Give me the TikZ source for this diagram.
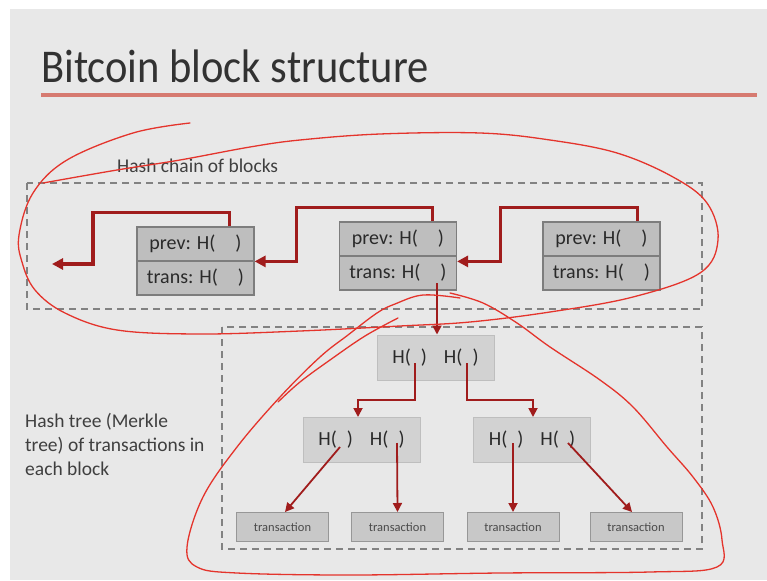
\documentclass[tikz,border=0pt]{standalone}
\usepackage{fontspec}
\setmainfont{Carlito}
\usetikzlibrary{arrows.meta,calc}

\definecolor{slidebg}{RGB}{232,232,232}
\definecolor{titletext}{RGB}{50,50,50}
\definecolor{bodytext}{RGB}{42,42,42}
\definecolor{rule}{RGB}{214,122,112}
\definecolor{dashgray}{RGB}{130,130,130}
\definecolor{cellfill}{RGB}{190,190,190}
\definecolor{cellline}{RGB}{125,125,125}
\definecolor{treefill}{RGB}{210,210,210}
\definecolor{treeline}{RGB}{190,190,190}
\definecolor{linkred}{RGB}{160,28,28}
\definecolor{penred}{RGB}{228,52,44}

\tikzset{
  blockcell/.style={draw=cellline, line width=1.2pt, fill=cellfill,
    minimum width=117pt, minimum height=34pt, inner sep=0pt,
    font=\fontsize{20}{24}\selectfont, text=bodytext},
  treecell/.style={draw=treeline, line width=1pt, fill=treefill,
    minimum width=117pt, minimum height=45pt, inner sep=0pt,
    font=\fontsize{20}{24}\selectfont, text=bodytext},
  txcell/.style={draw=cellline!80, line width=1pt, fill=cellfill!85!white,
    minimum width=92pt, minimum height=29pt, inner sep=0pt,
    font=\fontsize{12.5}{14}\selectfont, text=bodytext!85},
  groupbox/.style={draw=dashgray, line width=1.8pt, dash pattern=on 7pt off 5pt},
  chainlink/.style={draw=linkred, line width=3.2pt,
    -{Triangle[length=11pt,width=11pt]}},
  treelink/.style={draw=linkred, line width=1.8pt,
    -{Triangle[length=9pt,width=9pt]}},
  pen/.style={draw=penred, line width=1.3pt, line cap=round, line join=round},
  caption/.style={font=\fontsize{19.5}{24}\selectfont, text=bodytext!90, inner sep=0pt, anchor=base west}
}

\begin{document}
\begin{tikzpicture}[x=1pt,y=-1pt]
\useasboundingbox (0,0) rectangle (767,580);
\fill[white] (0,0) rectangle (767,580);
\fill[slidebg] (10,9) rectangle (767,580);

% title and rule
\node[inner sep=0pt, anchor=base west, xscale=0.905, text=titletext,
      font=\fontsize{47}{50}\selectfont] (title) at (41,83) {Bitcoin block structure};
\draw[rule, line width=3.5pt] (41,95) -- (757,95);

% group frames
\draw[groupbox] (27,183) rectangle (702,309);
\draw[groupbox] (222,327) rectangle (702,549);

\node[caption] (chaincap) at (117,172) {Hash chain of blocks};
\node[caption] (treecap1) at (25,427) {Hash tree (Merkle};
\node[caption] (treecap2) at (25,451) {tree) of transactions in};
\node[caption] (treecap3) at (25,475) {each block};

% blocks of the chain
\node[blockcell] (b1p) at (195.5,244) {prev: H(\quad)};
\node[blockcell] (b1t) at (195.5,278) {trans: H(\quad)};
\node[blockcell] (b2p) at (398,239) {prev: H(\quad)};
\node[blockcell] (b2t) at (398,273) {trans: H(\quad)};
\node[blockcell] (b3p) at (601.5,239) {prev: H(\quad)};
\node[blockcell] (b3t) at (601.5,273) {trans: H(\quad)};
\coordinate (older) at (52,264);

% hash pointers between blocks
\draw[chainlink] ([xshift=-23pt]b3p.north east) -- ++(0,-14)
  -| ([xshift=43pt,yshift=-6pt]b2t.north east) -- ([yshift=-6pt]b2t.north east);
\draw[chainlink] ([xshift=-25pt]b2p.north east) -- ++(0,-14)
  -| ([xshift=42pt,yshift=-1pt]b1t.north east) -- ([yshift=-1pt]b1t.north east);
\draw[chainlink] ([xshift=-25pt]b1p.north east) -- ++(0,-14)
  -| ([xshift=41pt]older) -- (older);

% Merkle tree
\node[treecell] (root) at (435.5,357.5) {H(\enspace)\hspace{0.85em}H(\enspace)};
\node[treecell] (L) at (361.5,440) {H(\enspace)\hspace{0.85em}H(\enspace)};
\node[treecell] (R) at (532,440) {H(\enspace)\hspace{0.85em}H(\enspace)};
\node[txcell] (tx1) at (282.5,527) {transaction};
\node[txcell] (tx2) at (397.5,527) {transaction};
\node[txcell] (tx3) at (513,527) {transaction};
\node[txcell] (tx4) at (636,527) {transaction};

\draw[treelink] ([xshift=39pt,yshift=-10pt]b2t.center) -- ([xshift=1.5pt]root.north);
\draw[treelink] ([xshift=-20.5pt,yshift=-5.5pt]root.center) -- ++(0,37) -| ([xshift=-3.5pt]L.north);
\draw[treelink] ([xshift=31.5pt,yshift=-5.5pt]root.center) -- ++(0,37) -| ([xshift=1pt]R.north);
\draw[treelink] ([xshift=-21.5pt,yshift=-7pt]L.center) -- ([xshift=2.5pt]tx1.north);
\draw[treelink] ([xshift=35.5pt,yshift=-3pt]L.center) -- (tx2.north);
\draw[treelink] ([xshift=-19pt,yshift=-3pt]R.center) -- (tx3.north);
\draw[treelink] ([xshift=36pt,yshift=-3pt]R.center) -- ([xshift=-4pt]tx4.north);

% hand-drawn pen marks
\draw[pen] plot[smooth, tension=0.6] coordinates {
  (190,123) (133,133) (67,160) (33,193) (19,235) (22,262) (35,290) (65,313)
  (117,330) (200,334) (300,331) (400,326) (470,322) (550,312) (633,297)
  (700,273) (718,240) (707,203) (673,177) (617,153) (550,140) (480,133)
  (380,134) (300,140) (250,147) (180,160) (117,170) (43,183)};
\draw[pen] plot[smooth, tension=0.6] coordinates {
  (460,298) (423,295) (395,304) (377,313) (348,335) (320,357) (280,397)
  (237,447) (203,497) (187,547) (197,567) (237,573) (350,575) (500,573)
  (650,572) (717,567) (722,540) (713,507) (693,477) (667,447) (633,407)
  (600,380) (550,347) (517,323) (483,303) (450,293)};
\draw[pen] plot[smooth, tension=0.6] coordinates {
  (398,318) (365,336) (330,360) (300,382) (278,402)};
\end{tikzpicture}
\end{document}
